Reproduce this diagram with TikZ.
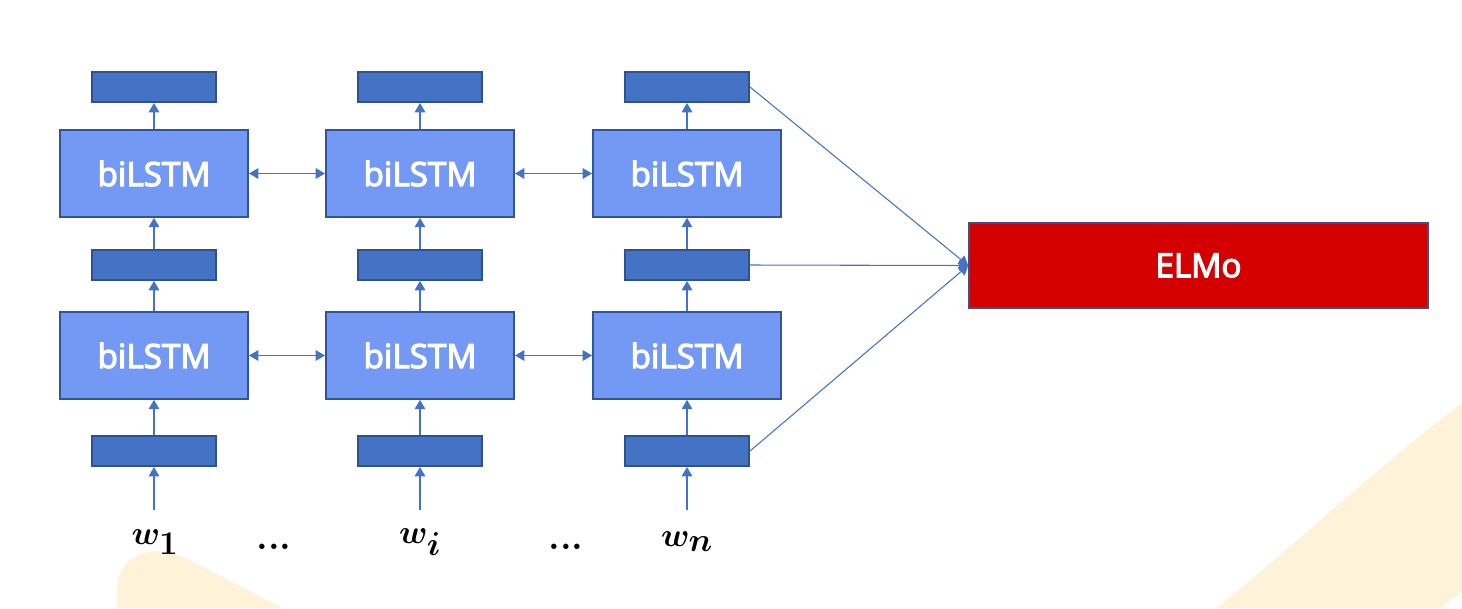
\documentclass[tikz,border=0pt]{standalone}
\usepackage{fontspec}
\newfontfamily\lstmfont{Open Sans}[FakeBold=3.5]
\usepackage{amsmath,bm}
\usetikzlibrary{arrows.meta}
\definecolor{lstm}{HTML}{7499F5}
\definecolor{lstmb}{HTML}{2F5597}
\definecolor{emb}{HTML}{4472C4}
\definecolor{embb}{HTML}{2F528F}
\definecolor{elmo}{HTML}{D40000}
\definecolor{elmob}{HTML}{3C4E8C}
\definecolor{bgy}{HTML}{FEF3D8}
\tikzset{
  lstmbox/.style={draw=lstmb, line width=1.5pt, fill=lstm, minimum width=141pt, minimum height=65pt, inner sep=0pt, text=white, font=\lstmfont\fontsize{25}{30}\selectfont},
  embbox/.style={draw=embb, line width=1.5pt, fill=emb, minimum width=93pt, minimum height=22.5pt, inner sep=0pt},
  elmobox/.style={draw=elmob, line width=1.5pt, fill=elmo, minimum width=344pt, minimum height=64pt, inner sep=0pt, text=white, font=\lstmfont\fontsize{25}{30}\selectfont},
  conn/.style={draw=emb, line width=0.8pt, -{Triangle[length=7pt,width=8pt]}},
  biconn/.style={draw=emb, line width=0.8pt, {Triangle[length=7pt,width=8pt]}-{Triangle[length=7pt,width=8pt]}},
  word/.style={font=\fontsize{34}{38}\selectfont},
  dots/.style={font=\bfseries\fontsize{28}{32}\selectfont},
}
\begin{document}
\begin{tikzpicture}[x=0.75pt,y=-0.75pt]
\useasboundingbox (0,0) rectangle (1462,608);
% background shapes
\fill[bgy] (117,608) -- (117,590) .. controls (118,556) and (150,540) .. (190,560) -- (282,608) -- cycle;
\fill[bgy] (1462,403) .. controls (1380,465) and (1300,540) .. (1217,608) -- (1440,608) -- (1462,592) -- cycle;
% columns
\foreach \c/\x in {1/154, 2/420, 3/687} {
  \node[embbox] (e0\c) at (\x,451) {};
  \node[lstmbox] (l1\c) at (\x,355.5) {\raisebox{-2pt}{biLSTM}};
  \node[embbox] (e1\c) at (\x,265) {};
  \node[lstmbox] (l2\c) at (\x,173.5) {\raisebox{-2pt}{biLSTM}};
  \node[embbox] (e2\c) at (\x,87) {};
  \coordinate (in\c) at (\x,510);
  \draw[conn] (in\c) -- (e0\c);
  \draw[conn] (e0\c) -- (l1\c);
  \draw[conn] (l1\c) -- (e1\c);
  \draw[conn] (e1\c) -- (l2\c);
  \draw[conn] (l2\c) -- (e2\c);
}
\draw[biconn] (l11) -- (l12);
\draw[biconn] (l12) -- (l13);
\draw[biconn] (l21) -- (l22);
\draw[biconn] (l22) -- (l23);
\node[elmobox] (elmo) at (1198.5,265.5) {ELMo};
\draw[conn] (e23.east) -- (elmo.west);
\draw[conn] (e13.east) -- (elmo.west);
\draw[conn] (e03.east) -- (elmo.west);
% words
\node[word] (w1) at (155,542) {$\bm{w}_{\bm{1}}$};
\node[word] (wi) at (420,542) {$\bm{w}_{\bm{i}}$};
\node[word] (wn) at (687,542) {$\bm{w}_{\bm{n}}$};
\node[dots] (d1) at (274,547) {...};
\node[dots] (d2) at (566,547) {...};
\end{tikzpicture}
\end{document}
